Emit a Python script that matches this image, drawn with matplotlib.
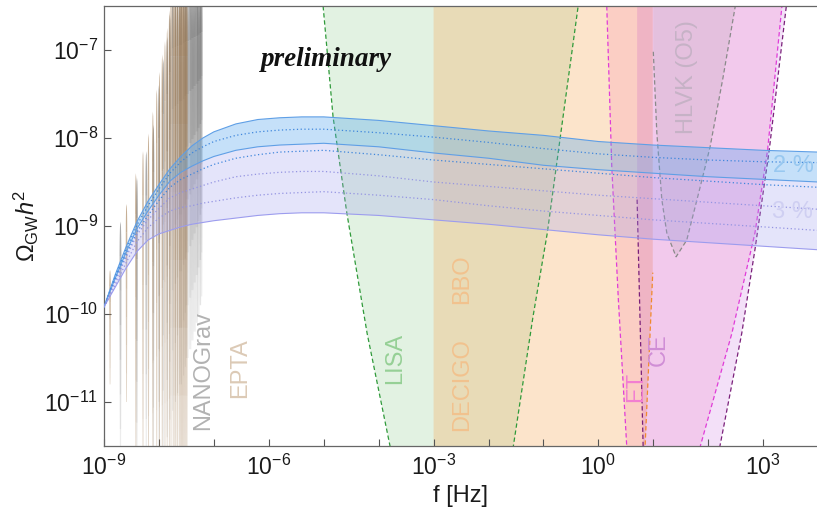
import numpy as np
import matplotlib
matplotlib.use('Agg')
import matplotlib.pyplot as plt
from matplotlib.ticker import FixedLocator, FuncFormatter, NullLocator

plt.rcParams['font.family'] = ['Liberation Sans', 'DejaVu Sans']
plt.rcParams['mathtext.fontset'] = 'custom'
plt.rcParams['mathtext.rm'] = 'Liberation Sans'
plt.rcParams['mathtext.it'] = 'Liberation Sans:italic'
plt.rcParams['mathtext.bf'] = 'Liberation Sans:bold'

# ---------------- data (log10 values) ----------------
band_lf = [-9.0, -8.8, -8.6, -8.4, -8.2, -8.0, -7.8, -7.6, -7.4, -7.2, -7.0, -6.6, -6.2,
           -5.8, -5.4, -5.0, -4.0, -3.0, -2.0, -1.0, 0.0, 1.0, 2.0, 3.0, 4.0]
blue_top = [-9.92, -9.56, -9.24, -8.95, -8.72, -8.53, -8.35, -8.21, -8.09, -8.00, -7.93, -7.84, -7.79,
            -7.77, -7.76, -7.76, -7.80, -7.86, -7.92, -7.97, -8.04, -8.08, -8.11, -8.14, -8.16]
blue_mid = [-9.92, -9.58, -9.27, -8.99, -8.77, -8.58, -8.40, -8.27, -8.17, -8.10, -8.04, -7.97, -7.93,
            -7.91, -7.90, -7.90, -7.94, -7.99, -8.05, -8.12, -8.18, -8.22, -8.25, -8.27, -8.28]
blue_low = [-9.92, -9.60, -9.30, -9.03, -8.83, -8.65, -8.49, -8.39, -8.32, -8.26, -8.21, -8.14, -8.10,
            -8.08, -8.07, -8.06, -8.10, -8.17, -8.23, -8.31, -8.36, -8.40, -8.44, -8.47, -8.50]
blue_dot2 = [-9.92, -9.62, -9.33, -9.07, -8.88, -8.71, -8.56, -8.47, -8.41, -8.35, -8.30, -8.23, -8.19,
             -8.16, -8.15, -8.14, -8.19, -8.25, -8.30, -8.35, -8.40, -8.45, -8.49, -8.53, -8.56]
lav_dot1 = [-9.92, -9.64, -9.36, -9.10, -8.93, -8.80, -8.68, -8.62, -8.58, -8.54, -8.50, -8.44, -8.41,
            -8.39, -8.38, -8.38, -8.43, -8.50, -8.55, -8.60, -8.65, -8.69, -8.73, -8.77, -8.81]
lav_dot2 = [-9.92, -9.68, -9.42, -9.18, -9.02, -8.91, -8.83, -8.79, -8.77, -8.74, -8.72, -8.68, -8.65,
            -8.63, -8.62, -8.61, -8.65, -8.70, -8.77, -8.83, -8.88, -8.93, -8.97, -9.01, -9.05]
lav_low = [-9.92, -9.70, -9.48, -9.29, -9.16, -9.09, -9.05, -9.01, -8.98, -8.96, -8.94, -8.91, -8.88,
           -8.86, -8.85, -8.85, -8.88, -8.93, -8.98, -9.04, -9.10, -9.15, -9.19, -9.23, -9.27]

# detector power-law sensitivity curves (log10 f, log10 Omega)
lisa_lf = [-5.04, -5.01, -4.83, -4.58, -4.21, -3.79, -2.70, -1.55, -1.19, -0.93, -0.70, -0.37, -0.34]
lisa_lo = [-6.30, -6.51, -7.76, -8.85, -10.22, -11.51, -12.40, -11.51, -10.03, -9.08, -8.02, -6.51, -6.30]
decigo_lf = [-3.00, -2.00, -1.00, 0.00, 0.50, 0.85, 0.99]
decigo_lo = [-13.5, -14.0, -14.0, -13.6, -12.8, -11.51, -9.53]
et_lf = [0.14, 0.153, 0.244, 0.364, 0.517, 1.20, 1.852, 2.43, 2.85, 3.08, 3.34, 3.37]
et_lo = [-6.30, -6.51, -8.33, -9.84, -11.51, -12.60, -11.51, -10.22, -9.08, -8.14, -6.51, -6.30]
ce_lf = [0.705, 0.815, 1.50, 2.21, 2.61, 2.85, 3.11, 3.42, 3.46]
ce_lo = [-8.70, -11.51, -12.80, -11.51, -10.22, -9.27, -8.14, -6.51, -6.30]
hlvk_lf = [1.00, 1.064, 1.155, 1.246, 1.415, 1.609, 1.852, 2.034, 2.27, 2.49, 2.53]
hlvk_lo = [-7.02, -7.94, -8.70, -9.08, -9.35, -9.16, -8.56, -8.10, -7.31, -6.51, -6.30]

# PTA violins (log10 f of bins, top and bottom of posterior)
ng_lf = [-8.70, -8.40, -8.23, -8.10, -8.00, -7.92, -7.85, -7.80, -7.75, -7.70, -7.66, -7.62, -7.59, -7.55, -7.52,
         -7.50, -7.47, -7.44, -7.42, -7.40, -7.38, -7.36, -7.34, -7.32, -7.30, -7.29, -7.27, -7.25, -7.24, -7.22]
ng_top = [-8.95, -8.45, -8.15, -7.85, -7.40, -7.10, -6.85, -6.60, -6.30, -6.30, -6.30, -6.30, -6.30, -6.30, -6.30,
          -6.30, -6.30, -6.30, -6.30, -6.30, -6.30, -6.30, -6.30, -6.30, -6.30, -6.30, -6.30, -6.30, -6.30, -6.30]
ng_bot = [-11.7, -11.7, -11.7, -11.6, -11.6, -11.5, -11.4, -11.2, -11.1, -11.0, -10.9, -10.8, -10.8, -10.7, -10.6,
          -10.5, -10.5, -10.4, -10.4, -10.3, -10.3, -10.2, -10.2, -10.1, -10.1, -10.0, -10.0, -9.9, -9.9, -9.8]
ep_lf = [-8.89, -8.59, -8.42, -8.29, -8.19, -8.11, -8.04, -7.99, -7.94, -7.89, -7.85, -7.81, -7.78,
         -7.74, -7.71, -7.69, -7.66, -7.63, -7.61, -7.59, -7.57, -7.55, -7.53, -7.51, -7.49]
ep_top = [-9.50, -8.75, -8.40, -8.15, -7.95, -7.70, -7.45, -7.25, -7.05, -6.90, -6.75, -6.55, -6.30,
          -6.30, -6.30, -6.30, -6.30, -6.30, -6.30, -6.30, -6.30, -6.30, -6.30, -6.30, -6.30]
ep_bot = [-10.8, -11.0, -11.7, -11.7, -11.7, -11.7, -11.7, -11.7, -11.7, -11.7, -11.7, -11.7, -11.7,
          -11.7, -11.7, -11.7, -11.7, -11.7, -11.7, -11.7, -11.7, -11.7, -11.7, -11.7, -11.7]

x_major = [-9, -6, -3, 0, 3]
y_major = [-11, -10, -9, -8, -7]

# ---------------- figure ----------------
fig = plt.figure(figsize=(8.17, 5.14), dpi=100)
ax = fig.add_axes([104 / 817, 1 - 446 / 514, (817 - 104) / 817, 440 / 514])
ax.set_xscale('log')
ax.set_yscale('log')
XMIN, XMAX = 1e-9, 10 ** 3.98
YMIN, YMAX = 10 ** -11.5, 10 ** -6.5
TOPFILL = 1e-6


def P(a):
    return 10.0 ** np.asarray(a, dtype=float)


def region(lf, lo, fc, alpha, ec, z=1):
    ax.fill_between(P(lf), P(lo), TOPFILL, facecolor=fc, alpha=alpha, lw=0, zorder=z)
    ax.plot(P(lf), P(lo), color=ec, lw=0.9, ls=(0, (3.5, 2.2)), zorder=z + 0.5)


region(lisa_lf, lisa_lo, '#4caf50', 0.16, '#2f9a3a')
region(decigo_lf, decigo_lo, '#f8a855', 0.30, '#f08a2c')
region(et_lf, et_lo, '#fa3c96', 0.13, '#e03cd8')
region(ce_lf, ce_lo, '#a000c8', 0.12, '#7a207a')
region(hlvk_lf, hlvk_lo, '#808080', 0.12, '#8a8a8a')


def violin(lf, top, bot, hw, color, alpha, fade, nseg=7):
    # stacked pieces: wider and more opaque toward the top, fading downward
    edges = np.linspace(0, 1, nseg + 1)
    for i in range(nseg):
        t = np.linspace(edges[i], edges[i + 1], 12)
        ly = bot + (top - bot) * t
        w = hw * (0.4 + 0.6 * t ** 0.6) * np.sqrt(np.clip(1 - t ** 10, 0, 1))
        tm = (edges[i] + edges[i + 1]) / 2
        a = alpha * (fade + (1 - fade) * tm)
        ax.fill_betweenx(P(ly), P(lf - w), P(lf + w), facecolor=color, alpha=a, lw=0, zorder=2)


for lf, tp, bt in zip(ng_lf, ng_top, ng_bot):
    violin(lf, tp, bt, 0.02, '#6a6a6a', 0.6, 0.15)
for lf, tp, bt in zip(ep_lf, ep_top, ep_bot):
    violin(lf, tp, bt, 0.016, '#9c7448', 0.6, 0.45)

# GW spectra bands
fx = P(band_lf)
ax.fill_between(fx, P(blue_low), P(blue_top), facecolor='#5aa8f0', alpha=0.35, lw=0, zorder=3)
ax.fill_between(fx, P(lav_low), P(blue_low), facecolor='#a0a0f0', alpha=0.28, lw=0, zorder=3)
ax.plot(fx, P(blue_top), color='#5f9fe6', lw=0.8, zorder=4)
ax.plot(fx, P(blue_low), color='#5f9fe6', lw=0.8, zorder=4)
ax.plot(fx, P(lav_low), color='#9c9cee', lw=0.8, zorder=4)
ax.plot(fx, P(blue_mid), color='#3f86dc', lw=0.9, ls=(0, (1, 2)), zorder=4)
ax.plot(fx, P(blue_dot2), color='#3f86dc', lw=0.9, ls=(0, (1, 2)), zorder=4)
ax.plot(fx, P(lav_dot1), color='#9494e2', lw=0.9, ls=(0, (1, 2)), zorder=4)
ax.plot(fx, P(lav_dot2), color='#9494e2', lw=0.9, ls=(0, (1, 2)), zorder=4)

ax.set_xlim(XMIN, XMAX)
ax.set_ylim(YMIN, YMAX)


def px(x, y):
    # pixel position (from top-left of figure) -> figure fraction
    return x / 817, 1 - y / 514


lab = dict(fontsize=17, rotation=90, ha='center', va='center', zorder=6)
fig.text(*px(203, 370), 'NANOGrav', color='#b2b2b2', **lab)
fig.text(*px(240, 368), 'EPTA', color='#dccab6', **lab)
fig.text(*px(395, 358), 'LISA', color='#96d096', **lab)
fig.text(*px(462, 385), 'DECIGO', color='#f2c28e', **lab)
fig.text(*px(462, 279), 'BBO', color='#f2c28e', **lab)
fig.text(*px(636, 387), 'ET', color='#f27fd2', **lab)
fig.text(*px(659, 350), 'CE', color='#d08ed6', **lab)
fig.text(*px(687, 77), 'HLVK (O5)', color='#c6b2c6', **lab)
fig.text(*px(793, 166), '2 %', color='#98c8f0', fontsize=17, ha='center', va='center', zorder=6)
fig.text(*px(792, 212), '3 %', color='#cfcff2', fontsize=17, ha='center', va='center', zorder=6)
fig.text(*px(326, 60), 'preliminary', family=['Liberation Serif', 'DejaVu Serif'], style='italic',
         weight='bold', fontsize=19.5, color='#111111', ha='center', va='center', zorder=6)

# axes styling
ax.xaxis.set_major_locator(FixedLocator(P(range(-9, 5))))
ax.xaxis.set_minor_locator(NullLocator())
ax.yaxis.set_major_locator(FixedLocator(P(y_major)))
ax.yaxis.set_minor_locator(NullLocator())


def xfmt(v, pos):
    e = int(round(np.log10(v)))
    return r'$10^{%d}$' % e if e in x_major else ''


ax.xaxis.set_major_formatter(FuncFormatter(xfmt))
ax.yaxis.set_major_formatter(FuncFormatter(lambda v, p: r'$10^{%d}$' % int(round(np.log10(v)))))
ax.tick_params(which='both', direction='in', length=5, width=0.8, color='#555555',
               labelsize=16.5, labelcolor='#1a1a1a', top=False, right=False)
ax.tick_params(axis='x', pad=6)
ax.tick_params(axis='y', pad=4)
for s in ['left', 'bottom', 'top']:
    ax.spines[s].set_color('#666666')
    ax.spines[s].set_linewidth(0.9)
ax.spines['right'].set_visible(False)
ax.set_xlabel('f [Hz]', fontsize=17, color='#1a1a1a', labelpad=4)
ax.set_ylabel(r'$\Omega_{\mathrm{GW}}h^2$', fontsize=17, color='#1a1a1a', labelpad=2)

fig.savefig('out.png', dpi=100)
